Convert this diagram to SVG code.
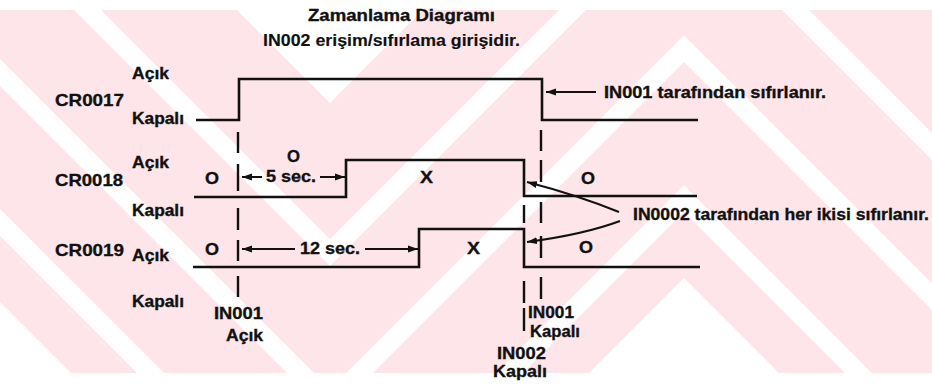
<svg xmlns="http://www.w3.org/2000/svg" width="932" height="386" viewBox="0 0 932 386">
<defs>
<style>
.t{font-family:"Liberation Sans",Arial,sans-serif;font-weight:bold;font-size:17px;fill:#111;stroke:#111;stroke-width:0.35}
.wv{fill:none;stroke:#111;stroke-width:2.6;stroke-linejoin:miter}
.dm{fill:none;stroke:#111;stroke-width:2.4}
.ar{fill:none;stroke:#111;stroke-width:2}
.wm{fill:#fde5e9}
.ws{fill:none;stroke:#fff;stroke-width:19;stroke-linejoin:miter}
</style>
<marker id="ah" markerUnits="userSpaceOnUse" markerWidth="12" markerHeight="8" refX="10" refY="4" orient="auto"><path d="M0,0.5 L10,4 L0,7.5 z" fill="#111"/></marker>
</defs>

<g id="watermark">
<rect class="wm" x="0" y="10" width="932" height="363"/>
<polyline class="ws" points="-100,-177.5 330,252.5 684,-101.5 1000,214.5"/>
<polyline class="ws" points="-100,-27.5 330,402.5 684,48.5 1000,364.5"/>
<polyline class="ws" points="-100,122.5 330,552.5 684,198.5 1000,514.5"/>
<polygon fill="#fff" points="220,-7 440,-7 330,103"/>
<polygon fill="#fff" points="684,278 570,392 798,392"/>
<polygon fill="#fff" points="0,302 90,392 0,392"/>
</g>

<g id="title">
<text class="t" x="308" y="21" textLength="187" lengthAdjust="spacingAndGlyphs">Zamanlama Diagramı</text>
<text class="t" x="263" y="46" font-size="16" style="stroke-width:0.15" textLength="257" lengthAdjust="spacingAndGlyphs">IN002 erişim/sıfırlama girişidir.</text>
</g>

<g id="cr0017">
<text class="t" x="132" y="79" textLength="37" lengthAdjust="spacingAndGlyphs">Açık</text>
<text class="t" x="55" y="106" textLength="69" lengthAdjust="spacingAndGlyphs">CR0017</text>
<text class="t" x="132" y="124" textLength="52" lengthAdjust="spacingAndGlyphs">Kapalı</text>
<path class="wv" d="M196,120 H239 V79 H542 V120 H698"/>
</g>

<g id="cr0018">
<text class="t" x="132" y="168" textLength="37" lengthAdjust="spacingAndGlyphs">Açık</text>
<text class="t" x="55" y="186" textLength="68" lengthAdjust="spacingAndGlyphs">CR0018</text>
<text class="t" x="132" y="216" textLength="52" lengthAdjust="spacingAndGlyphs">Kapalı</text>
<path class="wv" d="M194,197 H346 V160 H524 V196 H697"/>
<text class="t" x="287" y="162" textLength="13" lengthAdjust="spacingAndGlyphs">O</text>
<text class="t" x="205" y="184" textLength="14" lengthAdjust="spacingAndGlyphs">O</text>
<text class="t" x="266" y="182" textLength="50" lengthAdjust="spacingAndGlyphs">5 sec.</text>
<text class="t" x="420" y="183" textLength="13" lengthAdjust="spacingAndGlyphs">X</text>
<text class="t" x="581" y="184" textLength="14" lengthAdjust="spacingAndGlyphs">O</text>
</g>

<g id="cr0019">
<text class="t" x="55" y="256" textLength="69" lengthAdjust="spacingAndGlyphs">CR0019</text>
<text class="t" x="132" y="261" textLength="37" lengthAdjust="spacingAndGlyphs">Açık</text>
<text class="t" x="132" y="307" textLength="52" lengthAdjust="spacingAndGlyphs">Kapalı</text>
<path class="wv" d="M193,267 H419 V229 H524 V267 H700"/>
<text class="t" x="205" y="255" textLength="14" lengthAdjust="spacingAndGlyphs">O</text>
<text class="t" x="300" y="254" textLength="60" lengthAdjust="spacingAndGlyphs">12 sec.</text>
<text class="t" x="467" y="254" textLength="13" lengthAdjust="spacingAndGlyphs">X</text>
<text class="t" x="579" y="253" textLength="14" lengthAdjust="spacingAndGlyphs">O</text>
</g>

<g id="in001-acik">
<path class="dm" d="M238,132 V153 M238,164 V191 M238,208 V230 M238,240 V261 M238,276 V297"/>
<text class="t" x="214" y="319" textLength="49" lengthAdjust="spacingAndGlyphs">IN001</text>
<text class="t" x="226" y="341" textLength="37" lengthAdjust="spacingAndGlyphs">Açık</text>
</g>

<g id="in002-kapali">
<path class="dm" d="M524,205 V223 M524,281 V303 M524,308 V331"/>
<text class="t" x="497" y="359" font-size="16" textLength="49" lengthAdjust="spacingAndGlyphs">IN002</text>
<text class="t" x="493" y="377" font-size="16" textLength="54" lengthAdjust="spacingAndGlyphs">Kapalı</text>
</g>

<g id="in001-kapali">
<path class="dm" d="M541,130 V151 M541,160 V182 M541,202 V223 M541,236 V258 M541,277 V299"/>
<text class="t" x="528" y="318" font-size="16" textLength="46" lengthAdjust="spacingAndGlyphs">IN001</text>
<text class="t" x="530" y="337" font-size="16" textLength="50" lengthAdjust="spacingAndGlyphs">Kapalı</text>
</g>

<g id="note-in001">
<text class="t" x="604" y="98" textLength="222" lengthAdjust="spacingAndGlyphs">IN001 tarafından sıfırlanır.</text>
</g>

<g id="note-in0002">
<text class="t" x="633" y="220" textLength="296" lengthAdjust="spacingAndGlyphs">IN0002 tarafından her ikisi sıfırlanır.</text>
</g>

<g id="connectors">
<path class="ar" d="M596,92 L546,92" marker-end="url(#ah)"/>
<path class="ar" d="M262,177 L242,177" marker-end="url(#ah)"/>
<path class="ar" d="M320,177 L345,177" marker-end="url(#ah)"/>
<path class="ar" d="M295,249 L242,249" marker-end="url(#ah)"/>
<path class="ar" d="M365,249 L418,249" marker-end="url(#ah)"/>
<path class="ar" d="M619,212 Q577,195 527,182" marker-end="url(#ah)"/>
<path class="ar" d="M620,221 Q584,234.5 527,242" marker-end="url(#ah)"/>
</g>
</svg>
